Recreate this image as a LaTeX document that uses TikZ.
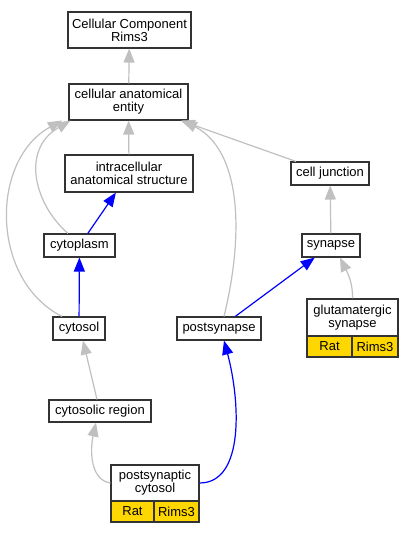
\documentclass[tikz,border=0pt]{standalone}
\usepackage{fontspec}
\setmainfont{Liberation Sans}
\usetikzlibrary{arrows.meta}
\definecolor{edgegray}{RGB}{192,192,192}
\definecolor{cellgold}{RGB}{255,215,0}
\tikzset{
  box/.style={draw=black!80, line width=1.1pt, fill=white, inner sep=0pt, align=center,
    font=\fontsize{13}{13}\selectfont},
  cell/.style={box, fill=cellgold},
  isa/.style={draw=edgegray, line width=1.2pt, -{Triangle[length=14pt,width=11pt]}},
  partof/.style={draw=blue, line width=1.2pt, -{Triangle[length=14pt,width=11pt]}},
}
\begin{document}
\begin{tikzpicture}[x=1pt,y=-1pt]
\useasboundingbox[fill=white] (0,0) rectangle (414,533);
\node[box, minimum width=123pt, minimum height=36pt] (cc) at (129.5,30) {Cellular Component\\Rims3};
\node[box, minimum width=119pt, minimum height=36pt] (cae) at (128.5,102) {cellular anatomical\\entity};
\node[box, minimum width=128pt, minimum height=37pt] (ias) at (129,173.5) {intracellular\\anatomical structure};
\node[box, minimum width=78pt, minimum height=23pt] (cj) at (330,173.5) {cell junction};
\node[box, minimum width=71pt, minimum height=23pt] (cyto) at (79.5,245.5) {cytoplasm};
\node[box, minimum width=58pt, minimum height=23pt] (syn) at (331,245.5) {synapse};
\node[box, minimum width=52pt, minimum height=23pt] (cytosol) at (79,328.5) {cytosol};
\node[box, minimum width=84pt, minimum height=23pt] (ps) at (219,328.5) {postsynapse};
\node[box, minimum width=91pt, minimum height=37pt] (gs) at (352.5,317.5) {glutamatergic\\synapse};
\node[cell, minimum width=45pt, minimum height=21pt] (gsrat) at (329.5,346.5) {Rat};
\node[cell, minimum width=46pt, minimum height=21pt] (gsrims) at (375,346.5) {Rims3};
\node[box, minimum width=102pt, minimum height=22pt] (cr) at (100,411) {cytosolic region};
\node[box, minimum width=88pt, minimum height=36pt] (pc) at (155,483) {postsynaptic\\cytosol};
\node[cell, minimum width=43pt, minimum height=21pt] (pcrat) at (132.5,511.5) {Rat};
\node[cell, minimum width=45pt, minimum height=21pt] (pcrims) at (176.5,511.5) {Rims3};

\draw[isa] (cae) -- (cc);
\draw[isa] (ias) -- (cae);
\draw[isa] (cj) -- (cae);
\draw[partof] (cyto) -- (ias);
\draw[partof] (cytosol) -- (cyto);
\draw[isa] ([xshift=-11.5pt]cyto.north) .. controls (35,205) and (20,150) .. ([xshift=-58pt]cae.south);
\draw[isa] ([xshift=-17pt]cytosol.north) .. controls (-10,280) and (-10,160) .. ([xshift=-66.5pt]cae.south);
\draw[isa] ([xshift=5pt]ps.north) .. controls (245,230) and (240,150) .. ([xshift=54.5pt]cae.south);
\draw[isa] (syn) -- (cj);
\draw[partof] (ps) -- (syn);
\draw[isa] (gs.north) .. controls (353,280) and (345,268) .. ([xshift=9pt]syn.south);
\draw[isa] ([xshift=-3pt]cr.north) -- ([xshift=4pt]cytosol.south);
\draw[isa] (pc.west) .. controls (90,480) and (90,450) .. ([xshift=-4pt]cr.south);
\draw[partof] (pc.east) .. controls (245,483) and (240,400) .. ([xshift=5pt]ps.south);
\end{tikzpicture}
\end{document}
